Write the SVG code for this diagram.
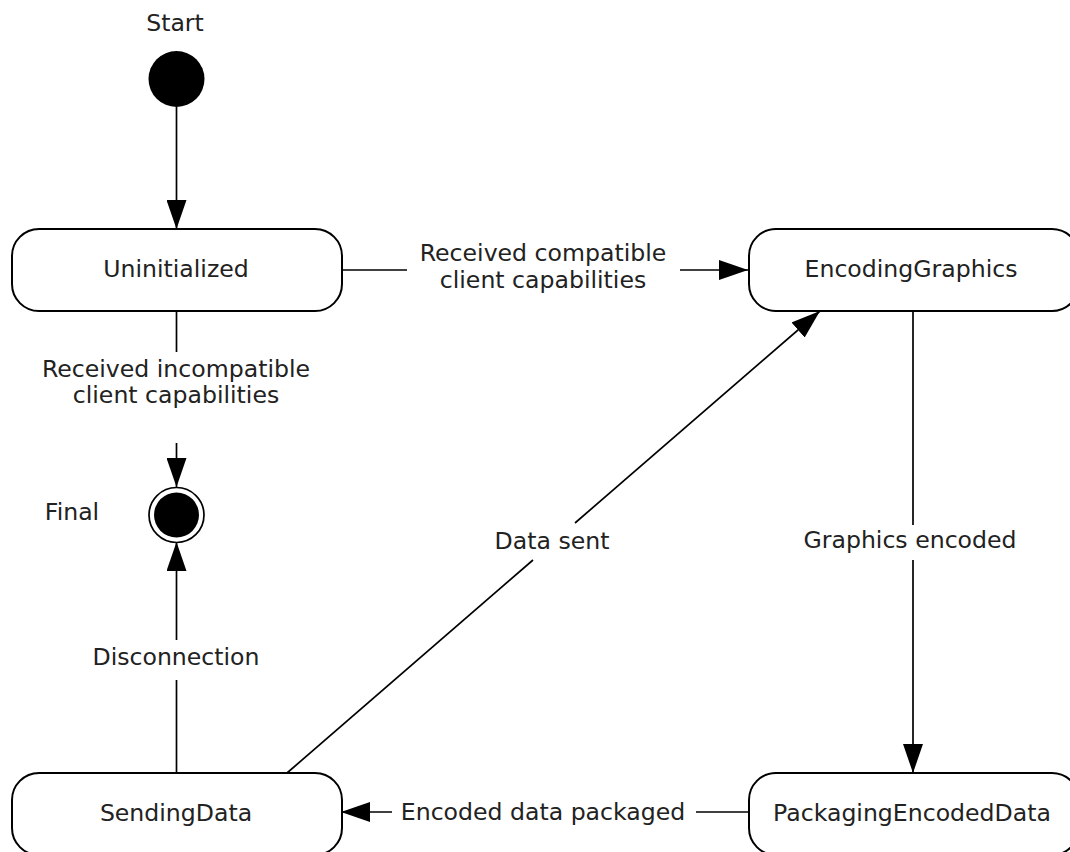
<svg xmlns="http://www.w3.org/2000/svg" width="1070" height="852" viewBox="0 0 1070 852">
<defs>
<style>
.box{fill:#fff;stroke:#000;stroke-width:2}
.ln{fill:none;stroke:#000;stroke-width:1.7}
.t{font-family:"DejaVu Sans","Verdana",sans-serif;font-size:23.6px;fill:#222;text-anchor:middle}
</style>
<marker id="ah" markerUnits="userSpaceOnUse" markerWidth="30" markerHeight="20" refX="29" refY="10" orient="auto">
<path d="M0,0 L29,10 L0,20 z" fill="#000"/>
</marker>
</defs>
<rect width="1070" height="852" fill="#fff"/>
<g id="connectors">
<line class="ln" x1="176.5" y1="107" x2="176.5" y2="229" marker-end="url(#ah)"/>
<line class="ln" x1="342" y1="270" x2="407" y2="270"/>
<line class="ln" x1="680" y1="270" x2="748" y2="270" marker-end="url(#ah)"/>
<text class="t" x="543" y="261">Received compatible</text>
<text class="t" x="543" y="288">client capabilities</text>
<line class="ln" x1="176.5" y1="311" x2="176.5" y2="352"/>
<line class="ln" x1="176.5" y1="443" x2="176.5" y2="487" marker-end="url(#ah)"/>
<text class="t" x="176" y="377">Received incompatible</text>
<text class="t" x="176" y="403">client capabilities</text>
<line class="ln" x1="176.5" y1="773" x2="176.5" y2="680"/>
<line class="ln" x1="176.5" y1="640" x2="176.5" y2="542" marker-end="url(#ah)"/>
<text class="t" x="176" y="665">Disconnection</text>
<line class="ln" x1="287" y1="773" x2="533" y2="560"/>
<line class="ln" x1="575" y1="523" x2="820" y2="311" marker-end="url(#ah)"/>
<text class="t" x="552" y="549">Data sent</text>
<line class="ln" x1="913" y1="311" x2="913" y2="525"/>
<line class="ln" x1="913" y1="560" x2="913" y2="773" marker-end="url(#ah)"/>
<text class="t" x="910" y="548">Graphics encoded</text>
<line class="ln" x1="748" y1="812" x2="696" y2="812"/>
<line class="ln" x1="392" y1="812" x2="341" y2="812" marker-end="url(#ah)"/>
<text class="t" x="543" y="820">Encoded data packaged</text>
</g>
<g id="start">
<circle cx="176.5" cy="79" r="28" fill="#000"/>
<text class="t" x="175" y="31">Start</text>
</g>
<g id="final">
<circle cx="176.5" cy="515" r="27.5" fill="#fff" stroke="#000" stroke-width="1.7"/>
<circle cx="176.5" cy="515" r="22.5" fill="#000"/>
<text class="t" x="72" y="520">Final</text>
</g>
<g id="uninitialized">
<rect class="box" x="12" y="229" width="330" height="82" rx="27" ry="27"/>
<text class="t" x="176" y="277">Uninitialized</text>
</g>
<g id="encodinggraphics">
<rect class="box" x="749" y="229" width="330" height="82" rx="27" ry="27"/>
<text class="t" x="911" y="277">EncodingGraphics</text>
</g>
<g id="sendingdata">
<rect class="box" x="12" y="773" width="330" height="82" rx="27" ry="27"/>
<text class="t" x="176" y="821">SendingData</text>
</g>
<g id="packagingencodeddata">
<rect class="box" x="749" y="773" width="330" height="82" rx="27" ry="27"/>
<text class="t" x="912" y="821">PackagingEncodedData</text>
</g>
</svg>
